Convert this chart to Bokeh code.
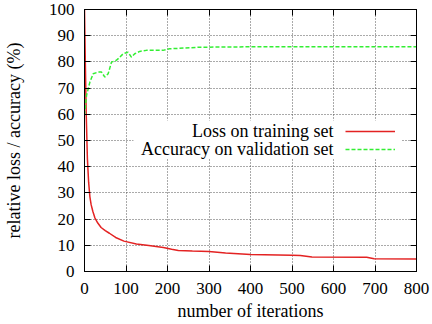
from bokeh.plotting import figure
from bokeh.models import (Range1d, FixedTicker, LinearAxis, Label, BoxAnnotation,
                          Legend, LegendItem, CustomJSTickFormatter, Title)
from bokeh.embed import file_html
from bokeh.resources import INLINE

# Training curves (percent of initial loss / validation accuracy)
loss_iter = [0, 2, 4, 7, 10, 13, 16, 20, 25, 32, 40, 50, 60, 75, 95, 125, 155,
             190, 210, 226, 260, 300, 340, 400, 500, 520, 548, 680, 698, 800]
loss_pct = [100, 80, 61, 43, 34, 28.5, 25.5, 23, 20.5, 18.5, 16.8, 15.6, 14.6,
            13, 11.6, 10.5, 9.9, 9.2, 8.5, 8.0, 7.8, 7.6, 7.1, 6.5, 6.2, 6.1,
            5.5, 5.4, 4.9, 4.8]

acc_iter = [0, 5, 13, 21, 33, 41, 49, 57, 65, 77, 85, 93, 105, 113, 121, 133,
            149, 189, 205, 229, 277, 422, 800]
acc_pct = [59.7, 67.3, 72.3, 75.5, 76.1, 76.1, 74.2, 75.5, 79.9, 80.6, 81.8,
           83.1, 83.7, 81.8, 83.1, 84.0, 84.4, 84.4, 85.0, 85.2, 85.6, 85.8, 85.8]

x_ticks = [0, 100, 200, 300, 400, 500, 600, 700, 800]
y_ticks = [0, 10, 20, 30, 40, 50, 60, 70, 80, 90, 100]

series_labels = ["Loss on training set", "Accuracy on validation set"]
x_title = "number of iterations"
y_title = "relative loss / accuracy (%)"

FONT = "'Liberation Serif', 'DejaVu Serif', serif"
TICK_FS = "17px"
LABEL_FS = "18px"

p = figure(width=432, height=324, x_range=Range1d(0, 800), y_range=Range1d(0, 100),
           output_backend="svg", toolbar_location=None,
           min_border_left=84, min_border_right=16, min_border_top=9,
           min_border_bottom=53, background_fill_color="white",
           border_fill_color="white")
p.outline_line_color = "black"
p.outline_line_width = 1

# grid: dotted lines at interior ticks
p.xgrid.ticker = FixedTicker(ticks=x_ticks[1:-1])
p.ygrid.ticker = FixedTicker(ticks=y_ticks[1:-1])
for g in (p.xgrid[0], p.ygrid[0]):
    g.grid_line_color = "#555555"
    g.grid_line_dash = "1 2"
    g.grid_line_width = 1

def style_axis(ax, ticks):
    ax.ticker = FixedTicker(ticks=ticks)
    ax.major_tick_in = 6
    ax.major_tick_out = 0
    ax.minor_tick_line_color = None
    ax.axis_line_color = "black"
    ax.major_tick_line_color = "black"
    ax.major_label_text_font = FONT
    ax.major_label_text_font_size = TICK_FS
    ax.major_label_text_color = "black"
    ax.axis_label_text_font = FONT
    ax.axis_label_text_font_size = LABEL_FS
    ax.axis_label_text_font_style = "normal"
    ax.axis_label_text_color = "black"

xa = p.xaxis[0]
style_axis(xa, x_ticks)
xa.major_label_standoff = 11

ya = p.yaxis[0]
style_axis(ya, y_ticks)
ya.axis_label = y_title
ya.major_label_standoff = 10
ya.axis_label_standoff = 22

# mirrored ticks on top and right, without labels
blank = CustomJSTickFormatter(code="return ''")
top = LinearAxis(formatter=blank)
right = LinearAxis(formatter=blank)
for ax, ticks in ((top, x_ticks), (right, y_ticks)):
    style_axis(ax, ticks)
    ax.major_label_standoff = 0
    ax.major_label_text_font_size = "0px"
p.add_layout(top, "above")
p.add_layout(right, "right")

loss_r = p.line(loss_iter, loss_pct, line_color="#e32222", line_width=1.5)
acc_r = p.line(acc_iter, acc_pct, line_color="#33ee33", line_width=1.5,
               line_dash="4 2")

# x-axis title under the tick labels
p.add_layout(Title(text=x_title, align="center", standoff=5, text_font=FONT,
                   text_font_size=LABEL_FS, text_font_style="normal",
                   text_color="black"), "below")

# key: opaque backdrop, right-aligned text, line samples to the right
p.add_layout(BoxAnnotation(left=118, right=765, bottom=43.1, top=57.6,
                           fill_color="white", fill_alpha=1.0, line_alpha=0))

legend = Legend(items=[LegendItem(label=" ", renderers=[loss_r]),
                       LegendItem(label=" ", renderers=[acc_r])],
                location=(261, 113), orientation="vertical", padding=0, margin=0,
                spacing=0, glyph_width=50, glyph_height=18, label_width=0,
                label_height=18, label_standoff=0, label_text_font_size="1px",
                background_fill_alpha=0, border_line_alpha=0)
p.add_layout(legend)

for txt, yv in zip(series_labels, [53.55, 46.8]):
    p.add_layout(Label(x=600, y=yv, text=txt, text_align="right",
                       text_baseline="middle", text_font=FONT,
                       text_font_size=LABEL_FS, text_color="black"))

open("out.html", "w").write(file_html(p, INLINE))
